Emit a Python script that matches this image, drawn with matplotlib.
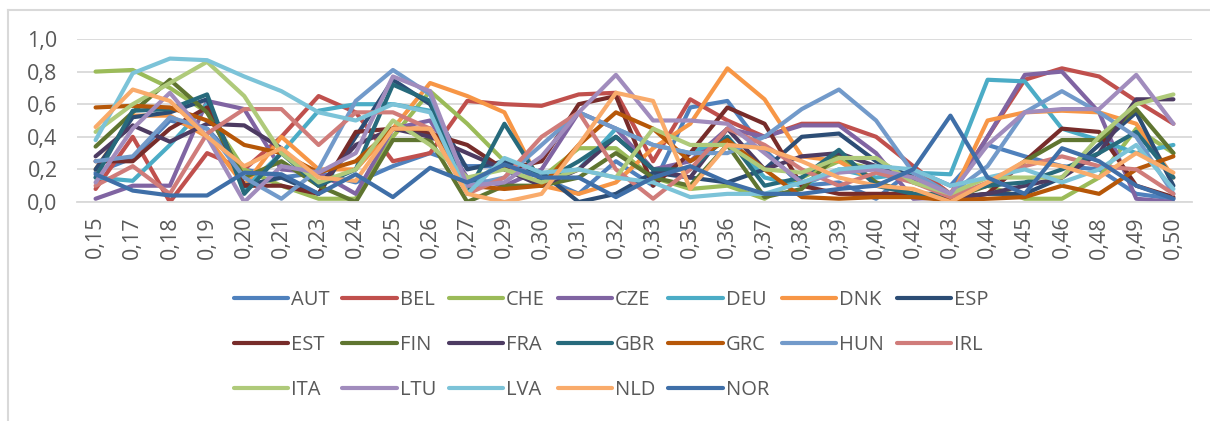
import matplotlib
matplotlib.use("Agg")
import matplotlib.pyplot as plt
from matplotlib.lines import Line2D

plt.rcParams['font.family'] = ['Open Sans', 'DejaVu Sans']

# x categories
x_labels = ['0,15', '0,17', '0,18', '0,19', '0,20', '0,21', '0,23', '0,24', '0,25', '0,26',
            '0,27', '0,29', '0,30', '0,31', '0,32', '0,33', '0,35', '0,36', '0,37', '0,38',
            '0,39', '0,40', '0,42', '0,43', '0,44', '0,45', '0,46', '0,48', '0,49', '0,50']

# series values
AUT = [0.18, 0.27, 0.50, 0.45, 0.20, 0.15, 0.18, 0.12, 0.22, 0.30, 0.22, 0.22, 0.15, 0.05, 0.25,
       0.10, 0.58, 0.62, 0.32, 0.10, 0.12, 0.02, 0.20, 0.10, 0.35, 0.28, 0.22, 0.20, 0.05, 0.02]
BEL = [0.08, 0.40, 0.00, 0.30, 0.20, 0.40, 0.65, 0.55, 0.25, 0.30, 0.62, 0.60, 0.59, 0.66, 0.67,
       0.25, 0.63, 0.50, 0.40, 0.48, 0.48, 0.40, 0.22, 0.05, 0.40, 0.75, 0.82, 0.77, 0.62, 0.48]
CHE = [0.80, 0.81, 0.70, 0.55, 0.20, 0.10, 0.02, 0.02, 0.40, 0.68, 0.48, 0.25, 0.15, 0.33, 0.33,
       0.15, 0.08, 0.10, 0.02, 0.15, 0.25, 0.20, 0.12, 0.05, 0.10, 0.02, 0.02, 0.15, 0.45, 0.30]
CZE = [0.02, 0.10, 0.10, 0.62, 0.57, 0.20, 0.18, 0.05, 0.45, 0.50, 0.15, 0.10, 0.20, 0.55, 0.45,
       0.20, 0.25, 0.45, 0.40, 0.47, 0.47, 0.30, 0.02, 0.03, 0.40, 0.78, 0.80, 0.55, 0.02, 0.00]
DEU = [0.15, 0.13, 0.35, 0.60, 0.08, 0.30, 0.56, 0.60, 0.60, 0.56, 0.10, 0.25, 0.15, 0.20, 0.45,
       0.35, 0.30, 0.40, 0.15, 0.10, 0.20, 0.15, 0.18, 0.17, 0.75, 0.74, 0.45, 0.38, 0.30, 0.35]
DNK = [0.20, 0.53, 0.53, 0.40, 0.10, 0.40, 0.20, 0.20, 0.45, 0.73, 0.65, 0.55, 0.10, 0.05, 0.12,
       0.33, 0.48, 0.82, 0.63, 0.28, 0.25, 0.12, 0.05, 0.02, 0.50, 0.55, 0.56, 0.55, 0.48, 0.15]
ESP = [0.20, 0.52, 0.55, 0.63, 0.10, 0.15, 0.05, 0.40, 0.75, 0.60, 0.20, 0.25, 0.18, 0.00, 0.05,
       0.18, 0.15, 0.12, 0.20, 0.40, 0.42, 0.25, 0.15, 0.03, 0.05, 0.05, 0.15, 0.35, 0.55, 0.10]
EST = [0.25, 0.25, 0.45, 0.58, 0.10, 0.10, 0.05, 0.43, 0.45, 0.42, 0.35, 0.20, 0.25, 0.60, 0.65,
       0.10, 0.30, 0.58, 0.48, 0.10, 0.05, 0.05, 0.05, 0.02, 0.05, 0.25, 0.45, 0.43, 0.10, 0.03]
FIN = [0.34, 0.55, 0.75, 0.55, 0.15, 0.25, 0.10, 0.00, 0.38, 0.38, 0.00, 0.10, 0.10, 0.15, 0.30,
       0.15, 0.10, 0.35, 0.03, 0.08, 0.30, 0.12, 0.05, 0.02, 0.10, 0.25, 0.38, 0.38, 0.57, 0.30]
FRA = [0.28, 0.47, 0.37, 0.48, 0.47, 0.33, 0.10, 0.35, 0.45, 0.40, 0.30, 0.20, 0.10, 0.20, 0.40,
       0.20, 0.15, 0.45, 0.20, 0.28, 0.30, 0.22, 0.15, 0.02, 0.05, 0.10, 0.15, 0.30, 0.63, 0.63]
GBR = [0.15, 0.56, 0.57, 0.66, 0.05, 0.30, 0.10, 0.20, 0.72, 0.62, 0.05, 0.48, 0.12, 0.25, 0.40,
       0.20, 0.20, 0.40, 0.10, 0.15, 0.32, 0.10, 0.05, 0.05, 0.10, 0.12, 0.20, 0.30, 0.43, 0.15]
GRC = [0.58, 0.59, 0.58, 0.50, 0.35, 0.30, 0.18, 0.25, 0.45, 0.45, 0.10, 0.08, 0.10, 0.35, 0.55,
       0.45, 0.25, 0.38, 0.20, 0.03, 0.02, 0.03, 0.03, 0.01, 0.02, 0.03, 0.10, 0.05, 0.20, 0.28]
HUN = [0.25, 0.28, 0.52, 0.45, 0.15, 0.02, 0.20, 0.62, 0.81, 0.66, 0.10, 0.15, 0.35, 0.55, 0.45,
       0.35, 0.30, 0.30, 0.40, 0.57, 0.69, 0.50, 0.18, 0.05, 0.22, 0.55, 0.68, 0.55, 0.40, 0.05]
IRL = [0.10, 0.22, 0.05, 0.42, 0.57, 0.57, 0.35, 0.55, 0.55, 0.45, 0.05, 0.15, 0.40, 0.55, 0.20,
       0.02, 0.20, 0.45, 0.35, 0.20, 0.10, 0.18, 0.12, 0.03, 0.12, 0.22, 0.28, 0.22, 0.20, 0.05]
ITA = [0.43, 0.60, 0.73, 0.86, 0.65, 0.30, 0.12, 0.20, 0.50, 0.35, 0.15, 0.20, 0.12, 0.20, 0.15,
       0.45, 0.35, 0.35, 0.20, 0.18, 0.27, 0.27, 0.12, 0.05, 0.15, 0.15, 0.15, 0.40, 0.60, 0.66]
LTU = [0.12, 0.45, 0.67, 0.40, 0.00, 0.22, 0.18, 0.30, 0.77, 0.68, 0.10, 0.12, 0.28, 0.55, 0.78,
       0.50, 0.50, 0.48, 0.30, 0.12, 0.18, 0.20, 0.15, 0.05, 0.35, 0.55, 0.57, 0.57, 0.78, 0.48]
LVA = [0.38, 0.79, 0.88, 0.87, 0.77, 0.68, 0.55, 0.50, 0.60, 0.55, 0.05, 0.27, 0.18, 0.20, 0.15,
       0.12, 0.03, 0.05, 0.05, 0.12, 0.20, 0.22, 0.20, 0.10, 0.15, 0.20, 0.12, 0.20, 0.35, 0.08]
NLD = [0.46, 0.69, 0.62, 0.40, 0.22, 0.33, 0.15, 0.13, 0.45, 0.45, 0.05, 0.00, 0.05, 0.35, 0.67,
       0.62, 0.08, 0.35, 0.33, 0.25, 0.15, 0.10, 0.08, 0.00, 0.12, 0.25, 0.22, 0.15, 0.30, 0.18]
NOR = [0.17, 0.07, 0.04, 0.04, 0.18, 0.17, 0.05, 0.17, 0.03, 0.21, 0.12, 0.23, 0.15, 0.15, 0.03,
       0.15, 0.22, 0.12, 0.05, 0.05, 0.08, 0.10, 0.20, 0.53, 0.15, 0.05, 0.33, 0.25, 0.10, 0.02]

names = ['AUT', 'BEL', 'CHE', 'CZE', 'DEU', 'DNK', 'ESP', 'EST', 'FIN', 'FRA',
         'GBR', 'GRC', 'HUN', 'IRL', 'ITA', 'LTU', 'LVA', 'NLD', 'NOR']
series = [AUT, BEL, CHE, CZE, DEU, DNK, ESP, EST, FIN, FRA,
          GBR, GRC, HUN, IRL, ITA, LTU, LVA, NLD, NOR]
colors = ['#4F81BD', '#C0504D', '#9BBB59', '#8064A2', '#4BACC6', '#F79646', '#2C4D75',
          '#772C2A', '#5F7530', '#4D3B62', '#276A7C', '#B65708', '#729ACA', '#D07C7A',
          '#AFCA7A', '#A18CBD', '#7CC3D8', '#F9AB6B', '#3F6FA8']

txt = '#595959'
grid = '#D9D9D9'

fig = plt.figure(figsize=(12.1, 4.21), dpi=100)
ax = fig.add_axes([77 / 1210, 1 - 202 / 421, (1192 - 77) / 1210, (202 - 39) / 421])

x = list(range(len(x_labels)))
handles = []
for name, vals, c in zip(names, series, colors):
    h, = ax.plot(x, vals, color=c, lw=3.0, label=name,
                 solid_joinstyle='round', solid_capstyle='round')
    handles.append(h)

ax.set_xlim(-0.5, len(x_labels) - 0.5)
ax.set_ylim(0, 1.0)
ax.set_yticks([0, 0.2, 0.4, 0.6, 0.8, 1.0])
ax.set_yticklabels(['0,0', '0,2', '0,4', '0,6', '0,8', '1,0'])
ax.set_xticks(x)
ax.set_xticklabels(x_labels, rotation=90)
ax.tick_params(axis='y', length=0, pad=14, labelsize=15.5, labelcolor=txt)
ax.tick_params(axis='x', length=0, pad=10, labelsize=15.5, labelcolor=txt)
ax.yaxis.grid(True, color=grid, lw=1.3)
ax.set_axisbelow(True)
for s in ['top', 'right', 'left']:
    ax.spines[s].set_visible(False)
ax.spines['bottom'].set_color(grid)
ax.spines['bottom'].set_linewidth(1.3)

# legend filled row by row (7 per row)
order = []
for j in range(7):
    for r in range(3):
        k = j + 7 * r
        if k < len(names):
            order.append(k)
leg = fig.legend([handles[k] for k in order], [names[k] for k in order],
                 ncol=7, loc='center', bbox_to_anchor=(0.505, 0.18),
                 frameon=False, fontsize=14.5, handlelength=2.7, handletextpad=0.15,
                 columnspacing=0.63, labelspacing=1.25)
for t in leg.get_texts():
    t.set_color(txt)
for lh in leg.get_lines():
    lh.set_linewidth(3.0)

# chart border (top and left edges visible)
fig.add_artist(Line2D([8 / 1210, 8 / 1210], [0, 1 - 10 / 421], color=grid, lw=1.5))
fig.add_artist(Line2D([8 / 1210, 1], [1 - 10 / 421, 1 - 10 / 421], color=grid, lw=1.5))

fig.savefig('out.png', dpi=100)
